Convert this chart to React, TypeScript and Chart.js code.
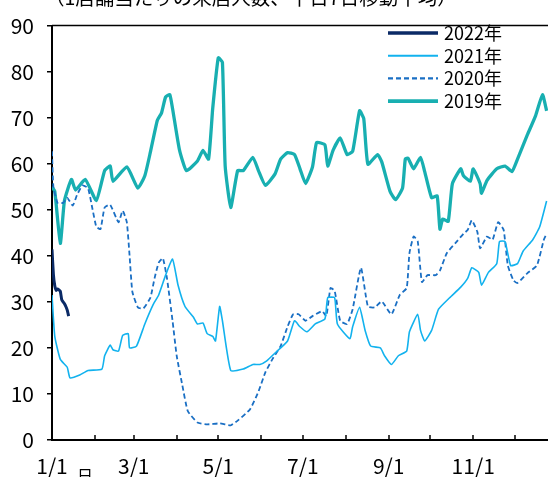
import React, { useEffect, useRef } from "react";
import { Chart, registerables } from "chart.js";

Chart.register(...registerables);

const FONT = '"Noto Sans CJK JP", "Noto Sans", sans-serif';
const TITLE = "（1店舗当たりの来店人数、平日7日移動平均）";
const X_UNIT = "日";
const MONTH_STARTS = [0, 31, 59, 90, 120, 151, 181, 212, 243, 273, 304, 334];
const MONTH_LABELS = ["1/1", "", "3/1", "", "5/1", "", "7/1", "", "9/1", "", "11/1", ""];
const Y_TICKS = [0, 10, 20, 30, 40, 50, 60, 70, 80, 90];
const X_MAX = 358;

const SERIES_LABELS = ["2022年", "2021年", "2020年", "2019年"];

const DAYS_2022 = [0, 1, 2, 3, 4, 5, 6, 7, 8, 9, 10, 11, 12];
const VALS_2022 = [41.4, 36, 33.5, 32.5, 32.8, 32.6, 32.3, 30.5, 30, 29.6, 29, 28.2, 26.9];

const DAYS_2021 = [0, 2, 6, 11, 13, 20, 26, 36, 38, 42, 44, 48, 51, 55, 56, 61, 67, 73, 77, 82, 87, 91, 96, 102, 105, 109, 112, 116, 118, 121, 123, 129, 138, 145, 150, 155, 161, 170, 175, 179, 184, 190, 197, 199, 204, 206, 215, 217, 222, 226, 230, 237, 240, 245, 250, 256, 258, 264, 266, 269, 274, 279, 287, 295, 300, 303, 308, 310, 315, 321, 323, 327, 331, 336, 340, 347, 352, 357];
const VALS_2021 = [31.5, 22.5, 17.5, 15.8, 13.5, 14.1, 15.1, 15.4, 18.3, 20.6, 19.6, 19.3, 22.7, 23.1, 20, 20.4, 25.2, 29.4, 31.5, 35.8, 39.3, 33.6, 29, 26.7, 25.2, 25.4, 23.1, 22.5, 21.5, 29, 25.9, 15.1, 15.4, 16.4, 16.4, 17.2, 18.9, 21.5, 25.9, 24.6, 23.5, 25.2, 26.3, 30.9, 30.9, 25.2, 22, 24.6, 28.8, 23.8, 20.4, 20, 18.3, 16.4, 18.3, 19.3, 23.5, 27.3, 23.8, 21.5, 23.8, 28.4, 30.9, 33.2, 35.1, 37.4, 36.4, 33.6, 36.4, 38.3, 43.1, 43.1, 37.9, 38.3, 41, 43.5, 46.3, 51.9];

const DAYS_2020 = [0, 1, 4, 8, 11, 15, 18, 22, 26, 29, 32, 35, 38, 42, 48, 51, 54, 56, 58, 62, 66, 71, 74, 77, 80, 83, 87, 90, 94, 98, 105, 112, 121, 129, 134, 143, 149, 154, 159, 165, 170, 174, 178, 183, 188, 195, 198, 201, 204, 208, 213, 217, 223, 228, 233, 238, 245, 251, 256, 258, 261, 264, 267, 271, 277, 280, 285, 291, 297, 300, 303, 307, 309, 314, 318, 322, 326, 329, 333, 336, 343, 350, 355, 357];
const VALS_2020 = [62.7, 55, 51.5, 51.5, 52.6, 50.9, 53.2, 55.3, 54.7, 50.5, 46.3, 45.8, 50.5, 51.1, 47.3, 49.8, 47.3, 40, 32.2, 28.8, 28.6, 30.9, 35.1, 38.5, 39.5, 35.1, 25.9, 18.3, 12, 6.3, 3.8, 3.4, 3.6, 3.2, 4.2, 6.7, 10.5, 14.7, 17.5, 20.4, 24.6, 27.3, 27.3, 25.9, 26.9, 28, 26.9, 33, 32.4, 25.9, 25.2, 28.4, 37.4, 29, 28.8, 30.1, 27.3, 31.5, 33, 40.6, 44.2, 43.1, 34.3, 35.8, 35.8, 36.8, 40.6, 42.7, 44.8, 45.6, 47.7, 45.2, 41.6, 44.2, 43.5, 47.3, 45.6, 37.9, 34.7, 34.1, 36.2, 37.9, 43.5, 44.8];

const DAYS_2019 = [0, 2, 6, 9, 14, 17, 24, 32, 38, 42, 44, 54, 62, 67, 71, 76, 79, 82, 85, 87, 92, 97, 105, 109, 113, 116, 120, 123, 125, 129, 134, 138, 145, 149, 154, 161, 165, 170, 175, 179, 183, 188, 191, 197, 199, 203, 208, 213, 217, 222, 225, 228, 235, 238, 244, 248, 253, 255, 257, 261, 266, 269, 274, 278, 280, 282, 286, 289, 295, 297, 302, 304, 309, 310, 314, 321, 327, 332, 336, 343, 349, 354, 357];
const VALS_2019 = [55, 54, 42.7, 52, 56.6, 54.3, 56.6, 52, 58.5, 59.5, 56.2, 59.3, 54.7, 57.4, 62.5, 69.4, 71, 74.5, 75, 72, 63, 58.5, 60.6, 62.9, 61, 72, 83, 82, 59.5, 50.5, 58.5, 58.5, 61.4, 58.5, 55.3, 57.8, 61, 62.4, 62, 58.9, 55.7, 59.3, 64.6, 64.1, 59.5, 63, 65.6, 62, 62.7, 71.5, 69.8, 59.9, 62, 60.4, 54, 52.2, 54.7, 61, 61.2, 58.9, 61.4, 58.3, 52.6, 53, 45.8, 48, 47.5, 55.7, 58.9, 57.4, 56.2, 58.9, 55.7, 53.6, 56.4, 58.9, 59.5, 58.3, 61, 66.2, 70.4, 75, 71.5];

const COLORS = ["#0b2a66", "#12b2ee", "#1a6fc4", "#18afb1"];
const WIDTHS = [3, 1.6, 1.8, 3.3];
const DASHES: number[][] = [[], [], [5, 3], []];

const toPoints = (days: number[], vals: number[]) => days.map((d, i) => ({ x: d, y: vals[i] }));

const decorPlugin = {
  id: "decor",
  afterDraw(chart: any) {
    const { ctx, chartArea: a, scales } = chart;
    ctx.save();
    ctx.strokeStyle = "#000";
    ctx.lineWidth = 1.5;
    ctx.beginPath();
    ctx.moveTo(a.left, a.top);
    ctx.lineTo(a.right, a.top);
    ctx.stroke();
    const xs = scales.x;
    MONTH_STARTS.forEach((d) => {
      const px = Math.round(xs.getPixelForValue(d));
      ctx.beginPath();
      ctx.moveTo(px, a.bottom);
      ctx.lineTo(px, a.bottom - 5);
      ctx.stroke();
    });
    ctx.fillStyle = "#000";
    ctx.textAlign = "left";
    ctx.textBaseline = "alphabetic";
    ctx.font = `19.5px ${FONT}`;
    ctx.fillText(TITLE, 45, 5);
    ctx.font = `16px ${FONT}`;
    ctx.textBaseline = "top";
    ctx.fillText(X_UNIT, 77, 468);
    chart.data.datasets.forEach((ds: any, i: number) => {
      const y = 33 + i * 22.7;
      ctx.strokeStyle = ds.borderColor;
      ctx.lineWidth = ds.borderWidth + (i === 1 || i === 2 ? 0.4 : 0.5);
      ctx.setLineDash(ds.borderDash || []);
      ctx.beginPath();
      ctx.moveTo(388, y);
      ctx.lineTo(438, y);
      ctx.stroke();
      ctx.setLineDash([]);
      ctx.font = `18px ${FONT}`;
      ctx.textBaseline = "middle";
      ctx.fillStyle = "#000";
      ctx.fillText(ds.label, 444, y);
    });
    ctx.restore();
  },
};

export default function App() {
  const ref = useRef<HTMLCanvasElement | null>(null);
  useEffect(() => {
    document.body.style.margin = "0";
    const canvas = ref.current;
    if (!canvas) return;
    const series = [
      toPoints(DAYS_2022, VALS_2022),
      toPoints(DAYS_2021, VALS_2021),
      toPoints(DAYS_2020, VALS_2020),
      toPoints(DAYS_2019, VALS_2019),
    ];
    const chart = new Chart(canvas, {
      type: "line",
      data: {
        datasets: series.map((pts, i) => ({
          label: SERIES_LABELS[i],
          data: pts,
          borderColor: COLORS[i],
          backgroundColor: COLORS[i],
          borderWidth: WIDTHS[i],
          borderDash: DASHES[i],
          borderJoinStyle: "round" as const,
          pointRadius: 0,
          tension: 0.15,
          fill: false,
        })),
      },
      options: {
        animation: false,
        responsive: false,
        maintainAspectRatio: false,
        layout: { padding: { top: 12, left: 0, right: 0, bottom: 0 } },
        plugins: { legend: { display: false }, tooltip: { enabled: false } },
        scales: {
          x: {
            type: "linear",
            min: 0,
            max: X_MAX,
            afterBuildTicks: (s: any) => {
              s.ticks = MONTH_STARTS.map((v) => ({ value: v }));
            },
            afterFit: (s: any) => {
              s.height = 37;
            },
            grid: { display: false, drawTicks: false },
            border: { display: true, color: "#000", width: 2 },
            ticks: {
              autoSkip: false,
              maxRotation: 0,
              minRotation: 0,
              padding: 13,
              color: "#000",
              font: { family: FONT, size: 21 },
              callback: (v: any) => {
                const i = MONTH_STARTS.indexOf(Number(v));
                return i >= 0 ? MONTH_LABELS[i] : "";
              },
            },
          },
          y: {
            min: 0,
            max: 90,
            afterBuildTicks: (s: any) => {
              s.ticks = Y_TICKS.map((v) => ({ value: v }));
            },
            afterFit: (s: any) => {
              s.width = 52;
            },
            grid: { drawOnChartArea: false, drawTicks: true, tickLength: 5, color: "#000", lineWidth: 1.5 },
            border: { display: true, color: "#000", width: 2 },
            ticks: { padding: 13, color: "#000", font: { family: FONT, size: 21 } },
          },
        },
      },
      plugins: [decorPlugin],
    });
    return () => chart.destroy();
  }, []);
  return (
    <div style={{ width: 548, height: 477, position: "relative" }}>
      <canvas ref={ref} width={548} height={477} style={{ display: "block" }} />
    </div>
  );
}
